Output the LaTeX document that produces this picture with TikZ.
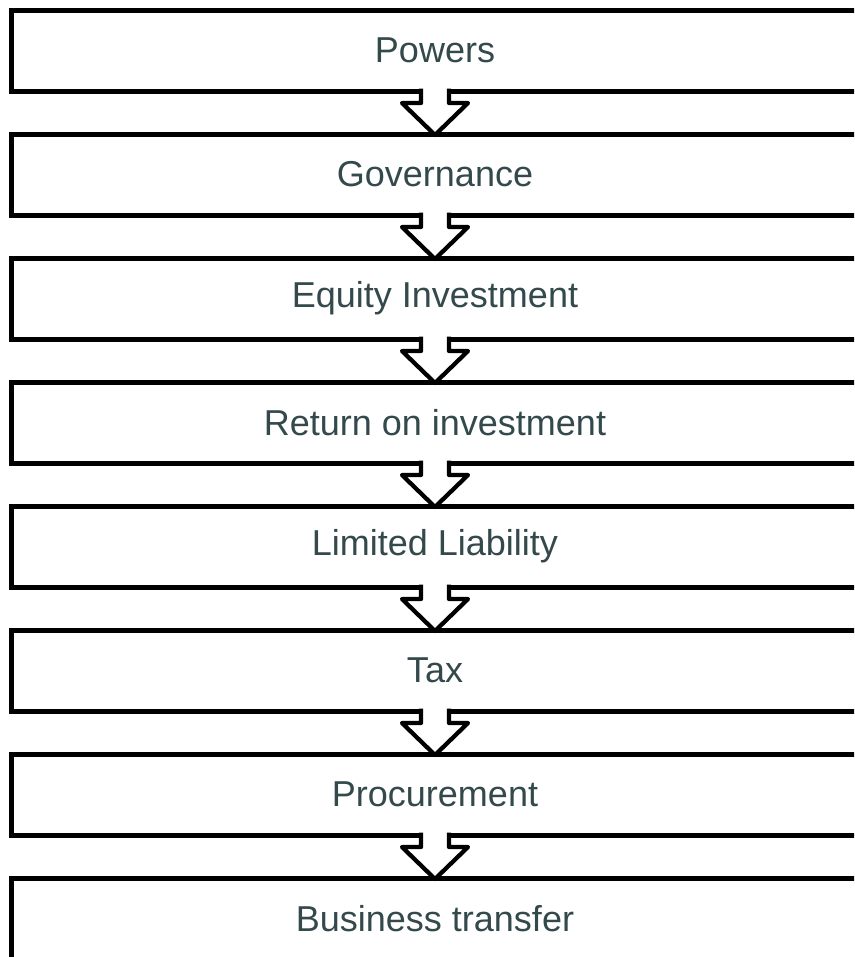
\documentclass[tikz,border=0pt]{standalone}
\usepackage{fontspec}
\setmainfont{Liberation Sans}
\usetikzlibrary{positioning,calc}
\definecolor{stagetext}{HTML}{34494B}
\tikzset{
	stage/.style={draw=black,line width=3.75pt,fill=white,outer sep=0pt,
		minimum width=848*0.75pt,minimum height=81*0.75pt,inner sep=0pt,
		text=stagetext,font=\fontsize{27}{32}\selectfont},
	stagearrow/.style={draw=black,fill=white,line width=3.2pt,line join=round,line cap=butt}
}
\begin{document}
\begin{tikzpicture}[x=0.75pt,y=0.75pt,node distance=43*0.75pt]
	\useasboundingbox (0,-957) rectangle (854,0);
	\clip (0,-957) rectangle (854,0);
	%方框
	\node[stage] (s1) at (435,-50.5) {Powers};
	\node[stage,below=of s1] (s2) {Governance};
	\node[stage,below=of s2] (s3) {Equity Investment};
	\node[stage,below=of s3] (s4) {Return on investment};
	\node[stage,below=of s4] (s5) {Limited Liability};
	\node[stage,below=of s5] (s6) {Tax};
	\node[stage,below=of s6] (s7) {Procurement};
	\node[stage,below=of s7] (s8) {Business transfer};
	%箭头
	\foreach \a/\b in {s1/s2,s2/s3,s3/s4,s4/s5,s5/s6,s6/s7,s7/s8}
	{
		\filldraw[stagearrow] ($(\a.south)+(-14,2.5)$) -- ++(0,-14.5) -- ++(-19,0)
			-- ($(\b.north)+(0,-1)$) -- ($(\a.south)+(33,-12)$) -- ++(-19,0) -- ++(0,14.5);
	}
\end{tikzpicture}
\end{document}
